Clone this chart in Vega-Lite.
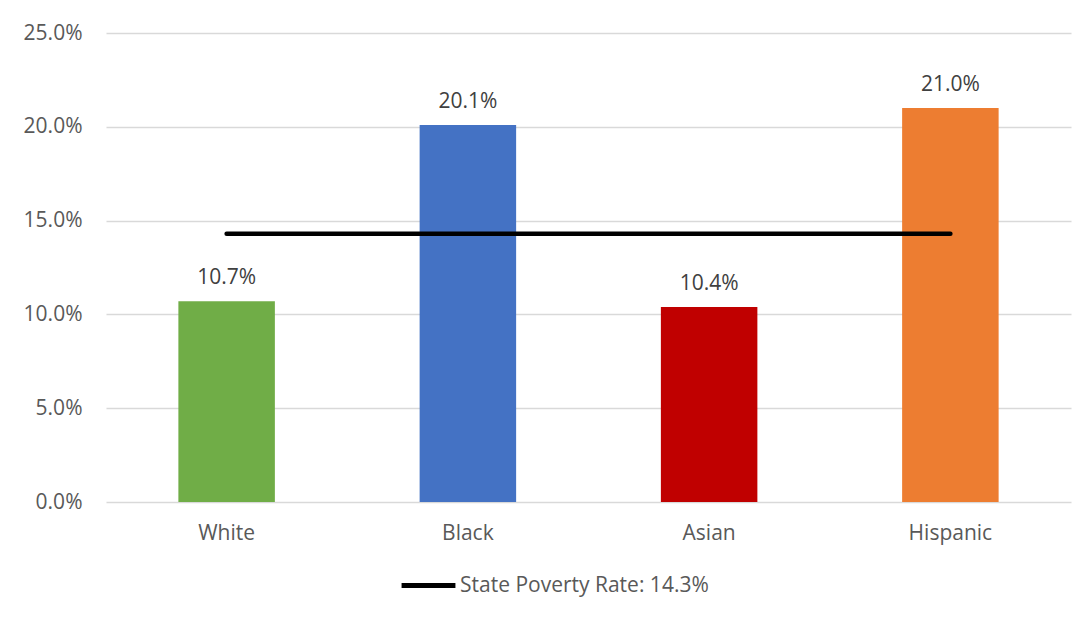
{
  "$schema": "https://vega.github.io/schema/vega-lite/v6.json",
  "width": 965,
  "height": 469,
  "autosize": {"type": "none"},
  "padding": {"left": 106, "top": 33, "right": 17, "bottom": 119},
  "background": "white",
  "config": {
    "view": {"stroke": null},
    "font": "Open Sans",
    "axis": {"labelFont": "Open Sans", "labelColor": "#595959", "labelFontSize": 21},
    "legend": {"labelFont": "Open Sans", "labelColor": "#595959", "labelFontSize": 21}
  },
  "datasets": {
    "groups": [
      {"group": "White", "rate": 0.107},
      {"group": "Black", "rate": 0.201},
      {"group": "Asian", "rate": 0.104},
      {"group": "Hispanic", "rate": 0.21}
    ],
    "state": [
      {"from": "White", "to": "Hispanic", "rate": 0.143, "series": "State Poverty Rate: 14.3%"}
    ]
  },
  "layer": [
    {
      "data": {"name": "groups"},
      "mark": {"type": "bar"},
      "encoding": {
        "x": {
          "field": "group", "type": "nominal", "sort": null,
          "scale": {"paddingInner": 0.6, "paddingOuter": 0.3},
          "axis": {"title": null, "labelAngle": 0, "domain": false, "ticks": false, "labelPadding": 20}
        },
        "y": {
          "field": "rate", "type": "quantitative",
          "scale": {"domain": [0, 0.25], "nice": false},
          "axis": {
            "title": null, "format": ".1%", "values": [0, 0.05, 0.1, 0.15, 0.2, 0.25],
            "domain": false, "ticks": false, "labelPadding": 24,
            "gridColor": "#d9d9d9", "gridWidth": 1.5
          }
        },
        "color": {
          "field": "group", "type": "nominal",
          "scale": {"domain": ["White", "Black", "Asian", "Hispanic"], "range": ["#70AD47", "#4472C4", "#C00000", "#ED7D31"]},
          "legend": null
        }
      }
    },
    {
      "data": {"name": "groups"},
      "mark": {"type": "text", "baseline": "alphabetic", "dy": -17, "fontSize": 21, "color": "#404040", "font": "Open Sans"},
      "encoding": {
        "x": {"field": "group", "type": "nominal", "sort": null},
        "y": {"field": "rate", "type": "quantitative"},
        "text": {"field": "rate", "type": "quantitative", "format": ".1%"}
      }
    },
    {
      "data": {"name": "state"},
      "mark": {"type": "rule", "strokeWidth": 4.5, "strokeCap": "round"},
      "encoding": {
        "x": {"field": "from", "type": "nominal", "sort": null},
        "x2": {"field": "to"},
        "y": {"field": "rate", "type": "quantitative"},
        "stroke": {
          "field": "series", "type": "nominal",
          "scale": {"range": ["#000000"]},
          "legend": {
            "title": null, "orient": "none", "legendX": 293, "legendY": 523,
            "symbolType": "stroke", "symbolSize": 2900, "symbolStrokeWidth": 5,
            "labelOffset": 2, "padding": 0, "labelLimit": 0
          }
        }
      }
    }
  ]
}
